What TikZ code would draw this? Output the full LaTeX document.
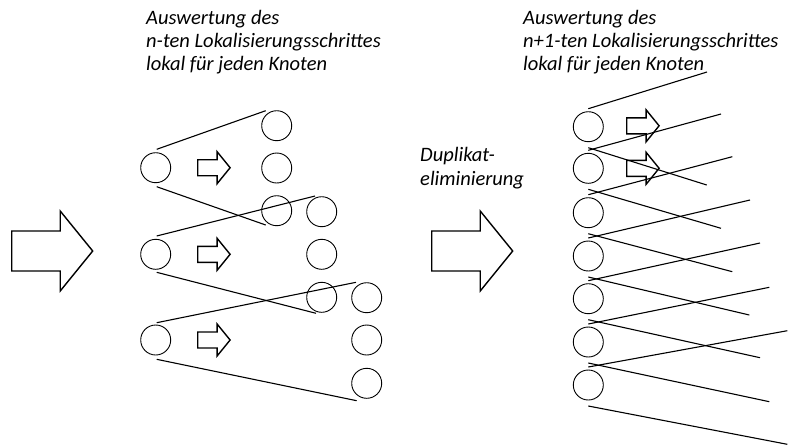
\documentclass[tikz,border=0pt]{standalone}
\usepackage{fontspec}
\setmainfont{Carlito}
\begin{document}
\begin{tikzpicture}[x=1pt,y=-1pt,
  dot/.style={draw, circle, minimum size=30pt, inner sep=0pt, line width=0.9pt},
  edge/.style={line width=1.1pt},
  lbl/.style={font=\fontsize{20.5}{23}\selectfont\itshape, anchor=base west, inner sep=0pt},
  fatarrow/.pic={\draw[line width=1.4pt, line join=miter]
    (0,-20) -- (48.5,-20) -- (48.5,-40) -- (81,0) -- (48.5,40) -- (48.5,20) -- (0,20) -- cycle;}]
\useasboundingbox (0,0) rectangle (794,445);

% captions
\node[lbl] (capL1) at (146,24.5) {Auswertung des};
\node[lbl] (capL2) at (146,47) {n-ten Lokalisierungsschrittes};
\node[lbl] (capL3) at (146,70) {lokal für jeden Knoten};
\node[lbl] (capR1) at (523,24.5) {Auswertung des};
\node[lbl] (capR2) at (523,47) {n+1-ten Lokalisierungsschrittes};
\node[lbl] (capR3) at (523,70) {lokal für jeden Knoten};
\node[lbl] (dup1) at (420,161.7) {Duplikat-};
\node[lbl] (dup2) at (420,185) {eliminierung};

% large transition arrows
\pic (bigL) at (11.7,251) {fatarrow};
\pic (bigR) at (431.7,251) {fatarrow};

% step n: three source nodes, each fanning out to three nodes
\node[dot] (a1) at (155.7,167.7) {};
\node[dot] (a2) at (155.7,254.3) {};
\node[dot] (a3) at (155.7,340) {};
\node[dot] (b1) at (276.7,125.7) {};
\node[dot] (b2) at (276.7,168) {};
\node[dot] (b3) at (276.7,210.7) {};
\node[dot] (c1) at (321.7,211.7) {};
\node[dot] (c2) at (321.7,254.3) {};
\node[dot] (c3) at (321.7,297.3) {};
\node[dot] (d1) at (366.7,297.7) {};
\node[dot] (d2) at (366.7,340) {};
\node[dot] (d3) at (366.7,383.3) {};

\pic[scale=0.4] (sa1) at (197.7,167.7) {fatarrow};
\pic[scale=0.4] (sa2) at (197.7,254.3) {fatarrow};
\pic[scale=0.4] (sa3) at (197.7,340) {fatarrow};

\draw[edge] ([shift={(1,-18.4)}]a1.center) -- ([shift={(-11,-15)}]b1.center);
\draw[edge] ([shift={(1,19)}]a1.center) -- ([shift={(-11,14.3)}]b3.center);
\draw[edge] ([shift={(1,-18.3)}]a2.center) -- ([shift={(-6.7,-15.7)}]c1.center);
\draw[edge] ([shift={(1,18)}]a2.center) -- ([shift={(-5.7,16)}]c3.center);
\draw[edge] ([shift={(1,-17.3)}]a3.center) -- ([shift={(-10.7,-15.4)}]d1.center);
\draw[edge] ([shift={(1,19.3)}]a3.center) -- ([shift={(-10,17.4)}]d3.center);

% step n+1: seven nodes after duplicate elimination, each with its fan
\foreach \k/\y/\ux/\uy/\lx/\ly in {
  1/126.7/707/72/706.7/185,
  2/168.3/721/114/721/228.3,
  3/212.7/732.3/156.7/732.3/271.7,
  4/256/750/200/749.3/315,
  5/298.7/760/243/760/357.7,
  6/342/769.3/287.3/769.3/401.7,
  7/385/787.3/330.7/787.3/444.3}{
  \node[dot] (r\k) at (588.3,\y) {};
  \coordinate (ru\k) at (\ux,\uy);
  \coordinate (rl\k) at (\lx,\ly);
  \draw[edge] ([yshift=18pt]r\k.center) -- (ru\k);
  \draw[edge] ([yshift=-21pt]r\k.center) -- (rl\k);
}

\pic[scale=0.4] (sr1) at (626.7,125.8) {fatarrow};
\pic[scale=0.4] (sr2) at (626.7,168.3) {fatarrow};
\end{tikzpicture}
\end{document}
